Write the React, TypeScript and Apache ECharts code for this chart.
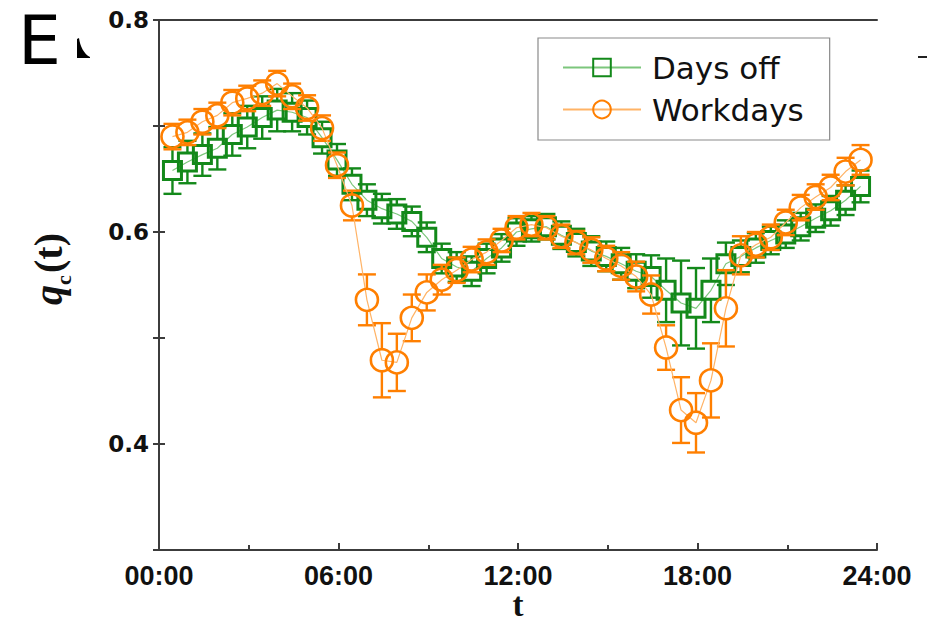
import React, { useEffect, useRef } from 'react';
import * as echarts from 'echarts';

// time of day in hours (half-hour bins)
const hours = [0.45, 0.95, 1.45, 1.95, 2.45, 2.95, 3.45, 3.95, 4.45, 4.95, 5.45, 5.95,
  6.45, 6.95, 7.45, 7.95, 8.45, 8.95, 9.45, 9.95, 10.45, 10.95, 11.45, 11.95,
  12.45, 12.95, 13.45, 13.95, 14.45, 14.95, 15.45, 15.95, 16.45, 16.95, 17.45, 17.95,
  18.45, 18.95, 19.45, 19.95, 20.45, 20.95, 21.45, 21.95, 22.45, 22.95, 23.45];

const daysOff = [0.658, 0.666, 0.673, 0.679, 0.692, 0.699, 0.708, 0.715, 0.713, 0.708, 0.689, 0.668,
  0.645, 0.630, 0.622, 0.617, 0.610, 0.595, 0.575, 0.567, 0.563, 0.575, 0.585, 0.600,
  0.603, 0.605, 0.597, 0.590, 0.582, 0.577, 0.570, 0.563, 0.558, 0.545, 0.533, 0.528,
  0.545, 0.570, 0.577, 0.585, 0.592, 0.598, 0.605, 0.613, 0.620, 0.630, 0.643];

const daysOffErr = [0.022, 0.02, 0.02, 0.02, 0.02, 0.02, 0.02, 0.02, 0.018, 0.016, 0.015, 0.015,
  0.015, 0.015, 0.014, 0.014, 0.014, 0.014, 0.014, 0.014, 0.014, 0.014, 0.013, 0.013,
  0.012, 0.012, 0.013, 0.013, 0.014, 0.014, 0.015, 0.016, 0.02, 0.03, 0.04, 0.038,
  0.03, 0.02, 0.015, 0.014, 0.013, 0.013, 0.013, 0.013, 0.014, 0.014, 0.015];

const workdays = [0.690, 0.694, 0.704, 0.710, 0.722, 0.726, 0.731, 0.740, 0.728, 0.717, 0.698, 0.663,
  0.625, 0.536, 0.479, 0.477, 0.519, 0.543, 0.555, 0.564, 0.574, 0.581, 0.592, 0.604,
  0.607, 0.604, 0.596, 0.590, 0.583, 0.575, 0.568, 0.558, 0.541, 0.491, 0.432, 0.420,
  0.460, 0.528, 0.578, 0.588, 0.595, 0.609, 0.623, 0.633, 0.642, 0.657, 0.668];

const workdaysErr = [0.012, 0.012, 0.012, 0.012, 0.012, 0.012, 0.012, 0.012, 0.012, 0.012, 0.012, 0.012,
  0.014, 0.024, 0.035, 0.027, 0.022, 0.017, 0.014, 0.012, 0.012, 0.012, 0.011, 0.011,
  0.011, 0.011, 0.011, 0.011, 0.012, 0.012, 0.013, 0.014, 0.018, 0.021, 0.031, 0.028,
  0.035, 0.036, 0.018, 0.012, 0.012, 0.012, 0.012, 0.012, 0.012, 0.013, 0.014];

const xTicks = ['00:00', '06:00', '12:00', '18:00', '24:00'];

const GREEN = '#13891a';
const GREEN_LINE = '#7cc67c';
const ORANGE = '#ff7f00';
const ORANGE_LINE = '#ffb366';

function errorSeries(name: string, vals: number[], errs: number[], color: string, r: number, z: number) {
  return {
    type: 'custom',
    name,
    z,
    silent: true,
    data: hours.map((h, i) => [h, vals[i], errs[i]]),
    encode: { x: 0, y: 1 },
    renderItem: (params: any, api: any) => {
      const x = api.value(0);
      const y = api.value(1);
      const e = api.value(2);
      const c = api.coord([x, y]);
      const top = api.coord([x, y + e]);
      const bot = api.coord([x, y - e]);
      const hw = 9;
      const style = { stroke: color, lineWidth: 2.4, fill: null };
      const children: any[] = [];
      if (c[1] - top[1] > r) {
        children.push({ type: 'line', shape: { x1: c[0], y1: top[1], x2: c[0], y2: c[1] - r }, style });
      }
      if (bot[1] - c[1] > r) {
        children.push({ type: 'line', shape: { x1: c[0], y1: c[1] + r, x2: c[0], y2: bot[1] }, style });
      }
      children.push({ type: 'line', shape: { x1: c[0] - hw, y1: top[1], x2: c[0] + hw, y2: top[1] }, style });
      children.push({ type: 'line', shape: { x1: c[0] - hw, y1: bot[1], x2: c[0] + hw, y2: bot[1] }, style });
      return { type: 'group', children };
    },
  };
}

export default function App() {
  const ref = useRef<HTMLDivElement>(null);
  useEffect(() => {
    const chart = echarts.init(ref.current!, null, { renderer: 'svg' });
    echarts.graphic.registerShape(
      'frag',
      echarts.graphic.extendPath('M0,1 L2,0 C3,8 7,16 13,19 L13,20 L0,20 Z', {}) as any
    );
    const option: any = {
      animation: false,
      backgroundColor: '#ffffff',
      grid: { left: 159, right: 50, top: 20, bottom: 72, containLabel: false, outerBoundsMode: 'none' },
      legend: {
        data: ['Days off', 'Workdays'],
        orient: 'vertical',
        left: 538,
        top: 38,
        itemWidth: 78,
        itemHeight: 22,
        itemGap: 11,
        padding: [14, 26, 15, 24],
        borderColor: '#8a8a8a',
        borderWidth: 1.2,
        borderRadius: 0,
        textStyle: { fontFamily: 'DejaVu Sans', fontSize: 31, color: '#111', padding: [0, 0, 0, 6] },
      },
      xAxis: [
        {
          type: 'value',
          min: 0,
          max: 24,
          interval: 6,
          position: 'bottom',
          axisLine: { show: true, lineStyle: { color: '#3c3c3c', width: 2 } },
          axisTick: { show: true, inside: true, length: 7, lineStyle: { color: '#3c3c3c', width: 2 } },
          minorTick: { show: true, splitNumber: 2, length: 5, lineStyle: { color: '#3c3c3c', width: 2 } },
          splitLine: { show: false },
          axisLabel: {
            margin: 12,
            fontFamily: 'Liberation Sans',
            fontWeight: 'bold',
            fontSize: 27,
            color: '#111',
            formatter: (v: number) => xTicks[Math.round(v / 6)] ?? '',
          },
        },
        {
          type: 'value',
          min: 0,
          max: 24,
          position: 'top',
          axisLine: { show: true, lineStyle: { color: '#3c3c3c', width: 2 } },
          axisTick: { show: false },
          axisLabel: { show: false },
          splitLine: { show: false },
        },
      ],
      yAxis: [
        {
          type: 'value',
          min: 0.3,
          max: 0.8,
          interval: 0.1,
          axisLine: { show: true, lineStyle: { color: '#3c3c3c', width: 2 } },
          axisTick: { show: true, inside: true, length: 6, lineStyle: { color: '#3c3c3c', width: 2 } },
          splitLine: { show: false },
          axisLabel: {
            margin: 10,
            fontFamily: 'DejaVu Sans',
            fontWeight: 'bold',
            fontSize: 23,
            color: '#111',
            formatter: (v: number) => {
              const k = Math.round(v * 10);
              return k % 2 === 0 ? (k / 10).toFixed(1) : '';
            },
          },
        },
        {
          type: 'value',
          min: 0.3,
          max: 0.8,
          interval: 0.1,
          position: 'right',
          axisLine: { show: true, lineStyle: { color: '#3c3c3c', width: 2 } },
          axisTick: { show: true, inside: true, length: 6, lineStyle: { color: '#3c3c3c', width: 2 } },
          splitLine: { show: false },
          axisLabel: { show: false },
        },
      ],
      series: [
        errorSeries('Days off err', daysOff, daysOffErr, GREEN, 9, 2),
        {
          type: 'line',
          name: 'Days off',
          z: 3,
          data: hours.map((h, i) => [h, daysOff[i]]),
          symbol: 'rect',
          symbolSize: 18,
          itemStyle: { color: 'rgba(255,255,255,0)', borderColor: GREEN, borderWidth: 3 },
          lineStyle: { color: GREEN_LINE, width: 1.2 },
        },
        errorSeries('Workdays err', workdays, workdaysErr, ORANGE, 11, 4),
        {
          type: 'line',
          name: 'Workdays',
          z: 5,
          data: hours.map((h, i) => [h, workdays[i]]),
          symbol: 'circle',
          symbolSize: 22,
          itemStyle: { color: 'rgba(255,255,255,0)', borderColor: ORANGE, borderWidth: 2.6 },
          lineStyle: { color: ORANGE_LINE, width: 1.2 },
        },
      ],
      graphic: [
        {
          type: 'text',
          left: 18,
          top: 6,
          style: { text: 'E', fontFamily: 'DejaVu Sans', fontSize: 68, fill: '#000' },
        },
        {
          type: 'frag',
          x: 77,
          y: 38,
          style: { fill: '#000' },
        },
        {
          type: 'line',
          shape: { x1: 918, y1: 57, x2: 927, y2: 57 },
          style: { stroke: '#222', lineWidth: 2 },
        },
        {
          type: 'text',
          x: 518,
          y: 605,
          style: {
            text: 't',
            fontFamily: 'Liberation Serif',
            fontWeight: 'bold',
            fontSize: 33,
            fill: '#111',
            align: 'center',
            verticalAlign: 'middle',
          },
        },
        {
          type: 'group',
          x: 68,
          y: 305,
          rotation: Math.PI / 2,
          children: [
            {
              type: 'text',
              x: 0,
              y: 0,
              style: {
                text: 'q',
                fontFamily: 'Liberation Serif',
                fontStyle: 'italic',
                fontWeight: 'bold',
                fontSize: 40,
                fill: '#111',
                verticalAlign: 'bottom',
              },
            },
            {
              type: 'text',
              x: 20,
              y: 6,
              style: {
                text: 'c',
                fontFamily: 'Liberation Serif',
                fontWeight: 'bold',
                fontSize: 22,
                fill: '#111',
                verticalAlign: 'bottom',
              },
            },
            {
              type: 'text',
              x: 32,
              y: 0,
              style: {
                text: '(t)',
                fontFamily: 'Liberation Serif',
                fontWeight: 'bold',
                fontSize: 40,
                fill: '#111',
                verticalAlign: 'bottom',
              },
            },
          ],
        },
      ],
    };
    chart.setOption(option);
    return () => chart.dispose();
  }, []);
  return <div ref={ref} style={{ position: 'fixed', left: 0, top: 0, width: 927, height: 622 }} />;
}
